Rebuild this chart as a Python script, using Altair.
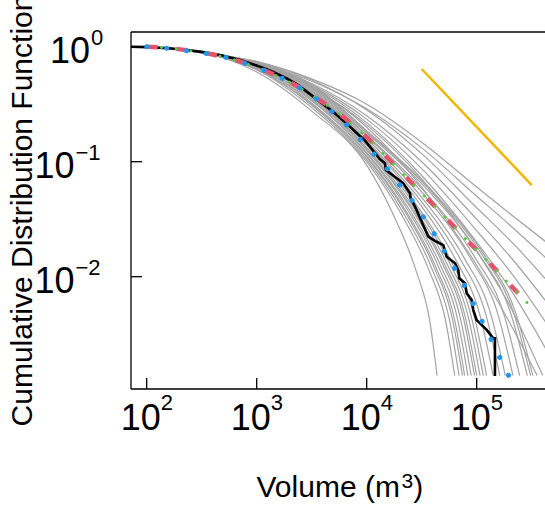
import altair as alt
import numpy as np
import pandas as pd

FONT = "Liberation Sans"

# ---------------- data (log10 of volume, log10 of CCDF) ----------------
x_tick_values = [1e2, 1e3, 1e4, 1e5]
x_tick_exps = ["2", "3", "4", "5"]
y_tick_values = [1.0, 0.1, 0.01]
y_tick_exps = ["0", "\u22121", "\u22122"]

black_logx = [1.85, 2.0, 2.2, 2.364, 2.5, 2.666, 2.85, 3.03, 3.15, 3.273, 3.37, 3.455, 3.575,
              3.7, 3.83, 3.93, 3.98, 4.066, 4.121, 4.166, 4.175, 4.273, 4.333, 4.394, 4.40,
              4.439, 4.50, 4.56, 4.636, 4.696, 4.727, 4.803, 4.833, 4.842, 4.894, 4.909,
              4.955, 4.969, 5.0, 5.091, 5.151, 5.166, 5.166]
black_logy = [0.0, -0.004, -0.014, -0.029, -0.045, -0.072, -0.115, -0.174, -0.22, -0.275, -0.33,
              -0.391, -0.478, -0.57, -0.68, -0.77, -0.81, -0.913, -0.979, -1.014, -1.072, -1.144,
              -1.188, -1.275, -1.318, -1.391, -1.522, -1.652, -1.696, -1.725, -1.826, -1.883,
              -1.942, -2.014, -2.057, -2.144, -2.203, -2.29, -2.377, -2.463, -2.536, -2.536, -2.863]

blue_logx = [2.0, 2.18, 2.357, 2.536, 2.715, 2.887, 3.06, 3.22, 3.382, 3.536, 3.7, 3.85, 3.95,
             4.057, 4.175, 4.285, 4.403, 4.503, 4.603, 4.694, 4.785, 4.876, 4.957, 5.039,
             5.121, 5.194, 5.276, 5.348, 5.45]
blue_logy = [0.0, -0.014, -0.035, -0.058, -0.092, -0.142, -0.203, -0.27, -0.353, -0.449, -0.58,
             -0.71, -0.815, -0.924, -1.046, -1.185, -1.324, -1.463, -1.61, -1.759, -1.907,
             -2.055, -2.21, -2.37, -2.524, -2.672, -2.83, -2.985, -3.2]

red_logx = [2.0, 2.2, 2.4, 2.6, 2.8, 3.0, 3.2, 3.4, 3.545, 3.7, 3.85, 4.0, 4.136, 4.364, 4.56,
            4.742, 4.924, 5.121, 5.303, 5.49]
red_logy = [0.0, -0.012, -0.035, -0.068, -0.115, -0.18, -0.26, -0.36, -0.45, -0.545, -0.66,
            -0.785, -0.915, -1.14, -1.33, -1.51, -1.695, -1.885, -2.07, -2.255]

green_logx = [2.0, 2.2, 2.4, 2.6, 2.8, 3.0, 3.2, 3.4, 3.545, 3.7, 3.85, 4.0, 4.136, 4.364, 4.56,
              4.742, 4.924, 5.121, 5.303, 5.49]
green_logy = [0.0, -0.012, -0.036, -0.069, -0.116, -0.181, -0.262, -0.362, -0.452, -0.547,
              -0.662, -0.787, -0.917, -1.142, -1.332, -1.512, -1.697, -1.887, -2.072, -2.257]

slope_logx = [4.5, 5.5]
slope_logy = [-0.194, -1.203]

# simulated CCDFs (gray)
gray_logx = [
    [1.857, 2.0, 2.35, 2.7, 3.0, 3.5, 4.0, 4.256, 4.448, 4.576, 4.64],
    [1.857, 2.0, 2.35, 2.7, 3.0, 3.5, 4.0, 4.32, 4.56, 4.72, 4.80],
    [1.857, 2.0, 2.35, 2.7, 3.0, 3.5, 4.0, 4.336, 4.588, 4.756, 4.84],
    [1.857, 2.0, 2.35, 2.7, 3.0, 3.5, 4.0, 4.348, 4.609, 4.783, 4.87],
    [1.857, 2.0, 2.35, 2.7, 3.0, 3.5, 4.0, 4.356, 4.623, 4.801, 4.89],
    [1.857, 2.0, 2.35, 2.7, 3.0, 3.5, 4.0, 4.368, 4.644, 4.828, 4.92],
    [1.857, 2.0, 2.35, 2.7, 3.0, 3.5, 4.0, 4.38, 4.665, 4.855, 4.95],
    [1.857, 2.0, 2.35, 2.7, 3.0, 3.5, 4.0, 4.392, 4.686, 4.882, 4.98],
    [1.857, 2.0, 2.35, 2.7, 3.0, 3.5, 4.0, 4.40, 4.70, 4.90, 5.00],
    [1.857, 2.0, 2.35, 2.7, 3.0, 3.5, 4.0, 4.412, 4.721, 4.927, 5.03],
    [1.857, 2.0, 2.35, 2.7, 3.0, 3.5, 4.0, 4.424, 4.742, 4.954, 5.06],
    [1.857, 2.0, 2.35, 2.7, 3.0, 3.5, 4.0, 4.436, 4.763, 4.981, 5.09],
    [1.857, 2.0, 2.35, 2.7, 3.0, 3.5, 4.0, 4.46, 4.805, 5.035, 5.15],
    [1.857, 2.0, 2.35, 2.7, 3.0, 3.5, 4.0, 4.484, 4.847, 5.089, 5.21],
    [1.857, 2.0, 2.35, 2.7, 3.0, 3.5, 4.0, 4.504, 4.882, 5.134, 5.26],
    [1.857, 2.0, 2.35, 2.7, 3.0, 3.5, 4.0, 4.532, 4.931, 5.197, 5.33],
    [1.857, 2.0, 2.35, 2.7, 3.0, 3.5, 4.0, 4.556, 4.973, 5.251, 5.39],
    [1.857, 2.0, 2.35, 2.7, 3.0, 3.5, 4.0, 4.584, 5.022, 5.314, 5.46],
    [1.857, 2.0, 2.35, 2.7, 3.0, 3.5, 4.0, 4.596, 5.043, 5.341, 5.49],
    [1.857, 2.0, 2.35, 2.7, 3.0, 3.5, 4.0, 4.604, 5.057, 5.359, 5.51],
    [1.857, 2.0, 2.35, 2.7, 3.0, 3.5, 4.0, 4.5, 5.0, 5.3, 5.7],
    [1.857, 2.0, 2.35, 2.7, 3.0, 3.5, 4.0, 4.5, 5.0, 5.3, 5.7],
    [1.857, 2.0, 2.35, 2.7, 3.0, 3.5, 4.0, 4.5, 5.0, 5.3, 5.7],
    [1.857, 2.0, 2.35, 2.7, 3.0, 3.5, 4.0, 4.5, 5.0, 5.3, 5.7],
    [1.857, 2.0, 2.35, 2.7, 3.0, 3.5, 4.0, 4.5, 5.0, 5.3, 5.7],
    [1.857, 2.0, 2.35, 2.7, 3.0, 3.5, 4.0, 4.5, 5.0, 5.3, 5.7],
    [1.857, 2.0, 2.35, 2.7, 3.0, 3.5, 4.0, 4.5, 5.0, 5.3, 5.6],
    [1.857, 2.0, 2.35, 2.7, 3.0, 3.5, 4.0, 4.5, 5.0, 5.3, 5.55],
]
gray_logy = [
    [0.0, -0.004, -0.032, -0.098, -0.22, -0.56, -1.03, -1.49, -1.945, -2.40, -2.86],
    [0.0, -0.004, -0.032, -0.095, -0.20, -0.53, -1.00, -1.465, -1.93, -2.395, -2.86],
    [0.0, -0.004, -0.031, -0.094, -0.19, -0.51, -0.98, -1.45, -1.92, -2.39, -2.86],
    [0.0, -0.004, -0.032, -0.095, -0.20, -0.50, -0.96, -1.435, -1.91, -2.385, -2.86],
    [0.0, -0.004, -0.030, -0.090, -0.18, -0.49, -0.95, -1.428, -1.905, -2.383, -2.86],
    [0.0, -0.004, -0.031, -0.092, -0.19, -0.47, -0.93, -1.413, -1.895, -2.378, -2.86],
    [0.0, -0.004, -0.029, -0.088, -0.17, -0.46, -0.92, -1.405, -1.89, -2.375, -2.86],
    [0.0, -0.004, -0.030, -0.090, -0.18, -0.45, -0.90, -1.39, -1.88, -2.37, -2.86],
    [0.0, -0.003, -0.028, -0.086, -0.16, -0.44, -0.89, -1.383, -1.875, -2.368, -2.86],
    [0.0, -0.004, -0.029, -0.088, -0.17, -0.43, -0.88, -1.375, -1.87, -2.365, -2.86],
    [0.0, -0.003, -0.028, -0.086, -0.16, -0.42, -0.86, -1.36, -1.86, -2.36, -2.86],
    [0.0, -0.004, -0.029, -0.088, -0.17, -0.41, -0.85, -1.353, -1.855, -2.358, -2.86],
    [0.0, -0.003, -0.027, -0.084, -0.15, -0.40, -0.83, -1.338, -1.845, -2.353, -2.86],
    [0.0, -0.003, -0.028, -0.086, -0.16, -0.39, -0.82, -1.33, -1.84, -2.35, -2.86],
    [0.0, -0.003, -0.027, -0.084, -0.15, -0.38, -0.80, -1.315, -1.83, -2.345, -2.86],
    [0.0, -0.003, -0.026, -0.082, -0.14, -0.37, -0.78, -1.30, -1.82, -2.34, -2.86],
    [0.0, -0.003, -0.027, -0.084, -0.15, -0.36, -0.77, -1.293, -1.815, -2.338, -2.86],
    [0.0, -0.003, -0.026, -0.082, -0.14, -0.35, -0.75, -1.278, -1.805, -2.333, -2.86],
    [0.0, -0.003, -0.025, -0.080, -0.13, -0.34, -0.74, -1.27, -1.80, -2.33, -2.86],
    [0.0, -0.003, -0.026, -0.082, -0.14, -0.33, -0.73, -1.263, -1.795, -2.328, -2.86],
    [0.0, -0.003, -0.025, -0.075, -0.13, -0.28, -0.50, -0.83, -1.22, -1.45, -1.75],
    [0.0, -0.003, -0.026, -0.077, -0.14, -0.30, -0.54, -0.88, -1.30, -1.55, -1.90],
    [0.0, -0.003, -0.025, -0.076, -0.13, -0.29, -0.55, -0.93, -1.40, -1.68, -2.10],
    [0.0, -0.003, -0.027, -0.079, -0.15, -0.32, -0.60, -1.00, -1.50, -1.82, -2.30],
    [0.0, -0.003, -0.026, -0.078, -0.14, -0.33, -0.63, -1.06, -1.60, -1.95, -2.50],
    [0.0, -0.003, -0.027, -0.079, -0.15, -0.34, -0.66, -1.12, -1.70, -2.10, -2.75],
    [0.0, -0.003, -0.028, -0.080, -0.16, -0.36, -0.68, -1.15, -1.78, -2.25, -2.86],
    [0.0, -0.003, -0.027, -0.079, -0.15, -0.35, -0.70, -1.22, -1.90, -2.40, -2.86],
]

# ---------------- layout ----------------
W, H = 414, 357
PAD_L, PAD_T = 131, 32
XMIN, XMAX = 10 ** 1.8573, 10 ** 5.621
YMIN, YMAX = 10 ** -2.9765, 10 ** 0.1278

xs = alt.Scale(type="log", domain=[XMIN, XMAX], nice=False)
ys = alt.Scale(type="log", domain=[YMIN, YMAX], nice=False)


def curve(lx, ly):
    return pd.DataFrame({"x": 10 ** np.array(lx, dtype=float),
                         "y": 10 ** np.array(ly, dtype=float),
                         "order": np.arange(len(lx))})


def enc(ch):
    return ch.encode(x=alt.X("x:Q", scale=xs, axis=None),
                     y=alt.Y("y:Q", scale=ys, axis=None),
                     order="order:Q")


gray_df = pd.concat([curve(a, b).assign(run=i) for i, (a, b) in enumerate(zip(gray_logx, gray_logy))])
gray = alt.Chart(gray_df).mark_line(color="#a3a3a3", strokeWidth=1.2, clip=True,
                                    interpolate="monotone").encode(
    x=alt.X("x:Q", scale=xs, axis=None), y=alt.Y("y:Q", scale=ys, axis=None),
    detail="run:N", order="order:Q")

black = enc(alt.Chart(curve(black_logx, black_logy)).mark_line(
    color="black", strokeWidth=2.6, clip=True))
red = enc(alt.Chart(curve(red_logx, red_logy)).mark_line(
    color="#e2546c", strokeWidth=4.5, strokeDash=[11, 19], clip=True, interpolate="monotone"))
green = enc(alt.Chart(curve(green_logx, green_logy)).mark_line(
    color="#5cc84a", strokeWidth=3, strokeDash=[0.1, 14.7], strokeCap="round", clip=True,
    interpolate="monotone"))
blue = enc(alt.Chart(curve(blue_logx, blue_logy)).mark_line(
    color="#2196f0", strokeWidth=5, strokeDash=[0.1, 19.9], strokeCap="round", clip=True,
    interpolate="monotone"))
slope = enc(alt.Chart(curve(slope_logx, slope_logy)).mark_line(
    color="#f2b600", strokeWidth=2.5, clip=True))

one = pd.DataFrame({"a": [0]})
AX = dict(color="black", strokeWidth=1.3)
frame_left = alt.Chart(one).mark_rule(**AX).encode(x=alt.value(0), y=alt.value(0), y2=alt.value(H))
frame_bottom = alt.Chart(one).mark_rule(**AX).encode(x=alt.value(0), x2=alt.value(W), y=alt.value(H))
frame_top = alt.Chart(one).mark_rule(**AX).encode(x=alt.value(0), x2=alt.value(W), y=alt.value(0))

xt = pd.DataFrame({"v": x_tick_values, "e": x_tick_exps, "b": ["10"] * len(x_tick_values)})
yt = pd.DataFrame({"v": y_tick_values, "e": y_tick_exps, "b": ["10"] * len(y_tick_values)})

xticks = alt.Chart(xt).mark_rule(**AX).encode(
    x=alt.X("v:Q", scale=xs, axis=None), y=alt.value(H), y2=alt.value(H - 11))
yticks = alt.Chart(yt).mark_rule(**AX).encode(
    y=alt.Y("v:Q", scale=ys, axis=None), x=alt.value(0), x2=alt.value(11))

xlab_base = alt.Chart(xt).mark_text(font=FONT, fontSize=36, align="right", baseline="alphabetic",
                                    dx=14, color="black").encode(
    x=alt.X("v:Q", scale=xs, axis=None), y=alt.value(H + 41), text="b:N")
xlab_exp = alt.Chart(xt).mark_text(font=FONT, fontSize=22, align="left", baseline="alphabetic",
                                   dx=14, color="black").encode(
    x=alt.X("v:Q", scale=xs, axis=None), y=alt.value(H + 21), text="e:N")

ylab_layers = []
for i in range(len(y_tick_values)):
    row = yt.iloc[[i]]
    base_right = (90 if not y_tick_exps[i].startswith("\u2212") else 74.5) - PAD_L
    ylab_layers.append(alt.Chart(row).mark_text(
        font=FONT, fontSize=36, align="right", baseline="alphabetic", dy=16.7, color="black").encode(
        x=alt.value(base_right), y=alt.Y("v:Q", scale=ys, axis=None), text="b:N"))
    ylab_layers.append(alt.Chart(row).mark_text(
        font=FONT, fontSize=22, align="left", baseline="alphabetic", dy=-1.5, color="black").encode(
        x=alt.value(base_right + 1), y=alt.Y("v:Q", scale=ys, axis=None), text="e:N"))

ytitle = alt.Chart(one).mark_text(font=FONT, fontSize=30, angle=270, align="center",
                                  baseline="alphabetic", color="black",
                                  text="Cumulative Distribution Function").encode(
    x=alt.value(32 - PAD_L), y=alt.value(H / 2))
xtitle_a = alt.Chart(one).mark_text(font=FONT, fontSize=30, align="left", baseline="alphabetic",
                                    color="black", text="Volume (m").encode(
    x=alt.value(256.5 - PAD_L), y=alt.value(497 - PAD_T))
xtitle_b = alt.Chart(one).mark_text(font=FONT, fontSize=21, align="left", baseline="alphabetic",
                                    color="black", text="3").encode(
    x=alt.value(401.5 - PAD_L), y=alt.value(488 - PAD_T))
xtitle_c = alt.Chart(one).mark_text(font=FONT, fontSize=30, align="left", baseline="alphabetic",
                                    color="black", text=")").encode(
    x=alt.value(413.2 - PAD_L), y=alt.value(497 - PAD_T))

chart = alt.layer(
    gray, black, red, green, blue, slope,
    frame_left, frame_bottom, frame_top, xticks, yticks,
    xlab_base, xlab_exp, *ylab_layers, ytitle, xtitle_a, xtitle_b, xtitle_c,
).properties(
    width=W, height=H,
    padding={"left": PAD_L, "top": PAD_T, "right": 0, "bottom": 508 - PAD_T - H},
    autosize=alt.AutoSizeParams(type="none"),
    background="white",
).configure_view(stroke=None)

chart.save("out.html", embed_options={"renderer": "svg", "actions": False})
